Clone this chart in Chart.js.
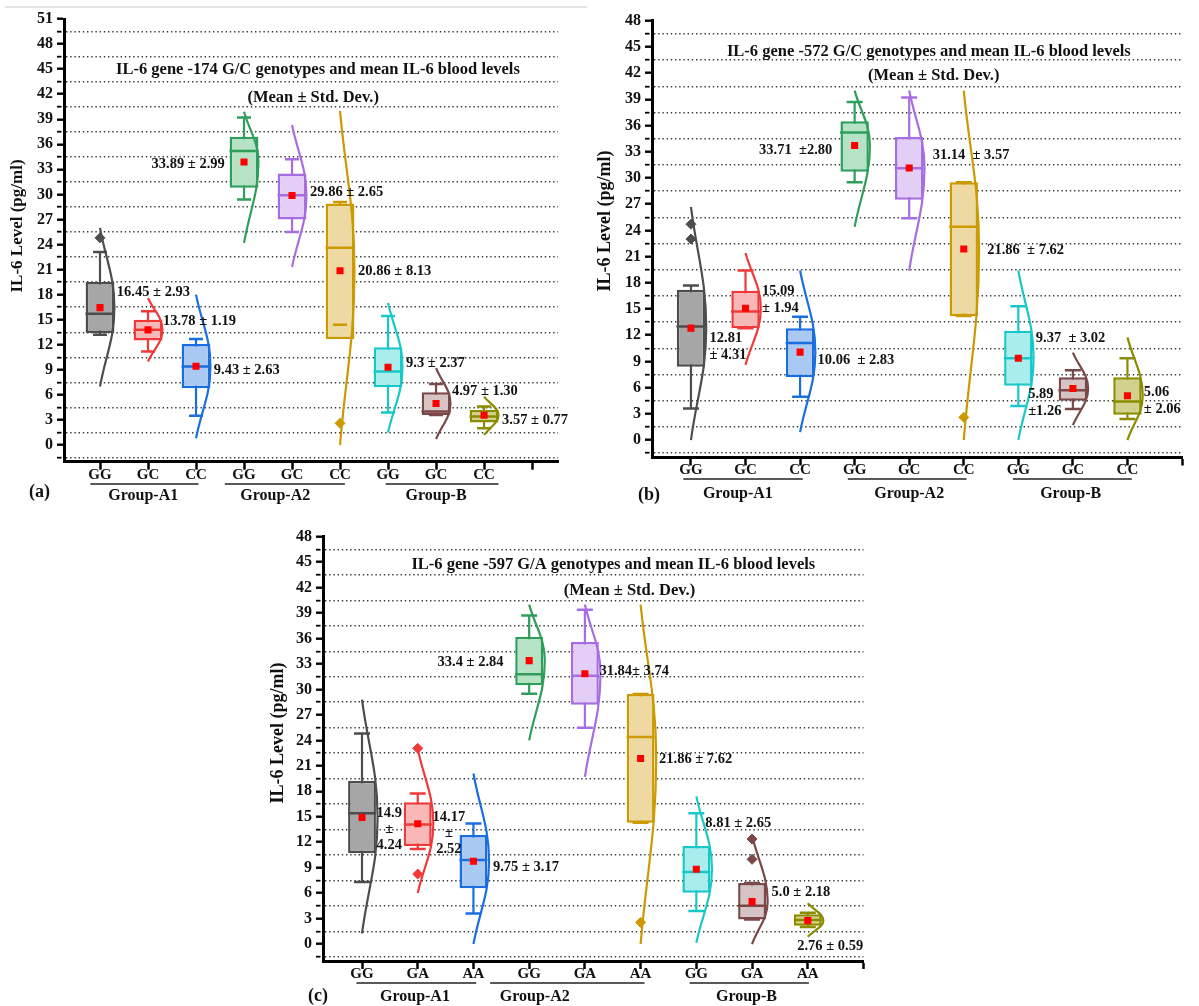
<!DOCTYPE html>
<html><head><meta charset="utf-8">
<script src="https://cdn.jsdelivr.net/npm/chart.js"></script>
<style>
html,body{margin:0;padding:0;background:#fff;width:1199px;height:1006px;overflow:hidden;position:relative}
.panel{position:absolute}
#topline{position:absolute;left:5px;top:6px;width:582px;height:2px;background:#e6e6e6}
</style></head><body>
<div id="topline"></div>
<div class="panel" style="left:0;top:0;width:590px;height:510px"><canvas id="ca"></canvas></div>
<div class="panel" style="left:590px;top:0;width:609px;height:510px"><canvas id="cb"></canvas></div>
<div class="panel" style="left:262px;top:515px;width:618px;height:491px"><canvas id="cc"></canvas></div>
<script>
// ---------------- DATA ----------------
const groupNames = ['Group-A1', 'Group-A2', 'Group-B'];
const genotypesA = ['GG','GC','CC','GG','GC','CC','GG','GC','CC'];
const genotypesB = ['GG','GC','CC','GG','GC','CC','GG','GC','CC'];
const genotypesC = ['GG','GA','AA','GG','GA','AA','GG','GA','AA'];
const yAxisTitle = 'IL-6 Level (pg/ml)';

// Panel (a): -174 G/C
const titleA = ['IL-6 gene -174 G/C genotypes and mean IL-6 blood levels', '(Mean ± Std. Dev.)'];
const q1A     = [13.4, 12.5, 6.8, 30.8, 27.0, 12.7, 6.9, 3.6, 2.7];
const q3A     = [19.5, 15.0, 12.1, 36.9, 32.5, 28.9, 11.7, 6.3, 4.2];
const medianA = [15.7, 13.8, 9.4, 35.2, 29.9, 23.6, 8.8, 4.0, 3.4];
const meanA   = [16.45, 13.78, 9.43, 33.89, 29.86, 20.86, 9.3, 4.97, 3.57];
const sdA     = [2.93, 1.19, 2.63, 2.99, 2.65, 8.13, 2.37, 1.30, 0.77];
const loA     = [13.2, 11.2, 3.5, 29.4, 25.5, 14.4, 3.9, 3.6, 2.0];
const hiA     = [23.1, 16.0, 12.7, 39.2, 34.2, 29.1, 15.45, 7.3, 4.6];
const curveTopA = [26.0, 17.6, 18.0, 39.9, 38.3, 40.0, 17.0, 9.2, 5.8];
const curveBotA = [7.0, 10.0, 0.8, 24.2, 21.3, 0.0, 1.5, 0.7, 1.2];
const outliersA = [[0, 24.8], [5, 2.6]];
const statTextA = ['16.45 ± 2.93','13.78 ± 1.19','9.43 ± 2.63','33.89 ± 2.99','29.86 ± 2.65','20.86 ± 8.13','9.3 ± 2.37','4.97 ± 1.30','3.57 ± 0.77'];

// Panel (b): -572 G/C
const titleB = ['IL-6 gene -572 G/C genotypes and mean IL-6 blood levels', '(Mean ± Std. Dev.)'];
const q1B     = [8.4, 12.8, 7.2, 30.7, 27.5, 14.2, 6.2, 4.5, 2.9];
const q3B     = [17.2, 17.1, 12.8, 36.5, 34.7, 29.5, 12.5, 7.2, 7.2];
const medianB = [13.0, 14.7, 11.1, 35.2, 31.1, 24.4, 9.35, 5.7, 4.4];
const meanB   = [12.81, 15.09, 10.06, 33.71, 31.14, 21.86, 9.37, 5.89, 5.06];
const sdB     = [4.31, 1.94, 2.83, 2.80, 3.57, 7.62, 3.02, 1.26, 2.06];
const loB     = [3.6, 12.8, 4.96, 29.5, 25.4, 14.2, 3.9, 3.55, 2.4];
const hiB     = [17.7, 19.4, 14.1, 38.7, 39.2, 29.5, 15.3, 8.0, 9.35];
const curveTopB = [26.7, 21.4, 19.4, 40.0, 40.0, 40.0, 19.4, 10.0, 11.75];
const curveBotB = [0.0, 8.6, 0.9, 24.4, 19.4, 0.0, 0.0, 1.7, 0.0];
const outliersB = [[0, 24.7], [0, 23.0], [5, 2.6]];
const statTextB = ['12.81\n± 4.31','15.09\n± 1.94','10.06  ± 2.83','33.71  ±2.80','31.14  ± 3.57','21.86  ± 7.62','9.37  ± 3.02','5.89\n±1.26','5.06\n± 2.06'];

// Panel (c): -597 G/A
const titleC = ['IL-6 gene -597 G/A genotypes and mean IL-6 blood levels', '(Mean ± Std. Dev.)'];
const q1C     = [10.7, 11.55, 6.56, 30.5, 28.2, 14.3, 6.05, 2.9, 2.16];
const q3C     = [19.25, 16.7, 12.85, 36.2, 35.6, 29.46, 11.55, 7.2, 3.5];
const medianC = [15.4, 14.1, 9.9, 31.8, 31.6, 24.4, 8.5, 4.5, 2.83];
const meanC   = [14.9, 14.17, 9.75, 33.4, 31.84, 21.86, 8.81, 5.0, 2.76];
const sdC     = [4.24, 2.52, 3.17, 2.84, 3.74, 7.62, 2.65, 2.18, 0.59];
const loC     = [7.3, 11.2, 3.6, 29.5, 25.5, 14.3, 3.9, 2.9, 2.0];
const hiC     = [24.8, 17.75, 14.2, 38.7, 39.4, 29.46, 15.4, 7.2, 3.7];
const curveTopC = [28.8, 23.0, 20.1, 40.0, 40.0, 40.0, 17.4, 12.8, 4.8];
const curveBotC = [1.25, 6.0, 0.0, 24.0, 19.7, 0.0, 0.15, 0.0, 0.86];
const outliersC = [[1, 23.06], [1, 8.25], [5, 2.55], [7, 12.37], [7, 9.98]];
const statTextC = ['14.9\n±\n4.24','14.17\n±\n2.52','9.75 ± 3.17','33.4 ± 2.84','31.84± 3.74','21.86 ± 7.62','8.81 ± 2.65','5.0 ± 2.18','2.76 ± 0.59'];

// ---------------- STYLE / LAYOUT ----------------
const BORDER = ['#4d4d4d','#f03a3a','#1a6ee0','#2e9e5a','#a66ee0','#cc9900','#18c8c8','#7a4848','#8c8c00'];
const FILL   = ['#a6a6a6','#f8b8b8','#a9c8f2','#b6e2c6','#e3cff6','#efd9a3','#a9eded','#d6c3c3','#d2d28e'];
const FONT = '"Liberation Serif", "Times New Roman", serif';

const layoutA = {
  xmin: 0.25, xmax: 10.54, ymin: -2, ymax: 51, yw: 64, xh: 48.3, pad: {top: 19, right: 32, left: 0, bottom: 0},
  bp: 0.6, half: 14.5, cap: 7, bulge: 0.3,
  yTitle: [18, 226, 17],
  titlePos: [[5.54, 44.9], [5.44, 41.6]],
  statPos: [[1.35,18.3,'left'],[2.31,14.77,'left'],[3.37,8.98,'left'],[3.6,33.65,'right'],[5.375,30.3,'left'],[6.375,20.75,'left'],[7.375,9.8,'left'],[8.33,6.47,'left'],[9.375,3.0,'left']],
  lh: 16,
  groups: [[1.9, 0.8, 3.05], [4.65, 3.6, 6.1], [8.0, 6.95, 9.3]],
  lineOff: 22.3, labelOff: 34.5, letter: '(a)', letterX: 29, letterY: 492
};
const layoutB = {
  xmin: 0.286, xmax: 10, ymin: -2, ymax: 48, yw: 62, xh: 52.5, pad: {top: 20.7, right: 2, left: 0, bottom: 0},
  bp: 0.52, half: 14.5, cap: 8, bulge: 0.28,
  yTitle: [15, 221, 18],
  titlePos: [[5.36, 44.45], [5.45, 41.67]],
  statPos: [[1.34,11.68,'left'],[2.30,16.98,'left'],[3.32,9.16,'left'],[3.59,33.12,'right'],[5.43,32.6,'left'],[6.43,21.75,'left'],[7.32,11.64,'left'],[7.18,5.27,'left'],[9.3,5.5,'left']],
  lh: 17,
  groups: [[1.86, 0.86, 3.05], [5.0, 3.875, 6.05], [7.96, 6.9, 9.08]],
  lineOff: 21.5, labelOff: 36.5, letter: '(b)', letterX: 48, letterY: 495
};
const layoutC = {
  xmin: 0.3, xmax: 10, ymin: -2, ymax: 48, yw: 61, xh: 45, pad: {top: 21.7, right: 5, left: 0, bottom: 0},
  bp: 0.5, half: 14, cap: 8, bulge: 0.28,
  yTitle: [16, 218, 18],
  titlePos: [[5.51, 44.66], [5.8, 41.63]],
  statPos: [[1.49,15.44,'center'],[2.56,14.97,'center'],[3.35,9.1,'left'],[3.54,33.15,'right'],[5.26,32.09,'left'],[6.33,21.77,'left'],[7.16,14.22,'left'],[8.35,6.05,'left'],[8.81,-0.32,'left']],
  lh: 16,
  groups: [[1.95, 0.9, 3.05], [4.1, 3.3, 6.07], [7.9, 6.88, 9.02]],
  lineOff: 22, labelOff: 35.7, letter: '(c)', letterX: 46, letterY: 481.7
};

const isHalf = v => Math.abs(Math.round(v / 3) * 3 - v) > 0.01;

const textPlugin = {
  id: 'panelText',
  afterDraw(chart, args, o) {
    const ctx = chart.ctx, xs = chart.scales.x, ys = chart.scales.y, ca = chart.chartArea;
    ctx.save();
    ctx.fillStyle = '#111';
    ctx.textBaseline = 'middle';
    // title
    ctx.font = 'bold 16.5px ' + FONT;
    ctx.textAlign = 'center';
    o.title.forEach((t, k) => ctx.fillText(t, xs.getPixelForValue(o.L.titlePos[k][0]), ys.getPixelForValue(o.L.titlePos[k][1])));
    // mean ± sd labels
    ctx.font = 'bold 14.5px ' + FONT;
    o.stats.forEach((s, k) => {
      const p = o.L.statPos[k];
      ctx.textAlign = p[2];
      s.split('\n').forEach((line, j) => ctx.fillText(line, xs.getPixelForValue(p[0]), ys.getPixelForValue(p[1]) + j * o.L.lh));
    });
    // group labels with underline
    ctx.font = 'bold 16px ' + FONT;
    ctx.textAlign = 'center';
    ctx.strokeStyle = '#222';
    ctx.lineWidth = 1.5;
    o.groups.forEach((g, k) => {
      const G = o.L.groups[k];
      ctx.beginPath();
      ctx.moveTo(xs.getPixelForValue(G[1]), ca.bottom + o.L.lineOff);
      ctx.lineTo(xs.getPixelForValue(G[2]), ca.bottom + o.L.lineOff);
      ctx.stroke();
      ctx.fillText(g, xs.getPixelForValue(G[0]), ca.bottom + o.L.labelOff);
    });
    // y axis title
    ctx.save();
    ctx.font = 'bold ' + o.L.yTitle[2] + 'px ' + FONT;
    ctx.translate(o.L.yTitle[0], o.L.yTitle[1]);
    ctx.rotate(-Math.PI / 2);
    ctx.textAlign = 'center';
    ctx.fillText(o.yTitle, 0, 0);
    ctx.restore();
    // panel letter
    ctx.font = 'bold 18px ' + FONT;
    ctx.textAlign = 'left';
    ctx.fillText(o.L.letter, o.L.letterX, o.L.letterY);
    ctx.restore();
  }
};

function buildChart(id, d, L) {
  const n = d.q1.length;
  const pts = arr => arr.map((v, i) => ({x: i + 1, y: v}));
  const ds = [];
  for (let i = 0; i < n; i++) {
    ds.push({type: 'line', data: [{x: i + 1, y: d.lo[i]}, {x: i + 1, y: d.hi[i]}],
      borderColor: BORDER[i], borderWidth: 2.2, pointRadius: 0, order: 20 + i});
  }
  ds.push({type: 'bar', data: d.q1.map((v, i) => ({x: i + 1, y: [v, d.q3[i]]})),
    backgroundColor: FILL, borderColor: BORDER, borderWidth: 2.5, borderSkipped: false,
    barPercentage: L.bp, categoryPercentage: 1, order: 15});
  for (let i = 0; i < n; i++) {
    ds.push({type: 'line', data: [{x: i + 1, y: d.cTop[i]}, {x: i + 1 + L.bulge, y: d.mean[i]}, {x: i + 1, y: d.cBot[i]}],
      borderColor: BORDER[i], borderWidth: 2.2, pointRadius: 0, tension: 0.4, order: 10});
  }
  const pointDs = (data, style, r, colors, order, extra) => Object.assign({type: 'line', showLine: false, data,
    pointStyle: style, pointRadius: r, pointHoverRadius: r, pointBorderColor: colors, pointBackgroundColor: colors,
    pointBorderWidth: 2.5, order}, extra || {});
  ds.push(pointDs(pts(d.lo), 'line', L.cap, BORDER, 6));
  ds.push(pointDs(pts(d.hi), 'line', L.cap, BORDER, 5));
  ds.push(pointDs(pts(d.median), 'line', L.half, BORDER, 4));
  ds.push(pointDs(d.out.map(o => ({x: o[0] + 1, y: o[1]})), 'rectRot', 5, d.out.map(o => BORDER[o[0]]), 3, {pointBorderWidth: 1}));
  ds.push(pointDs(pts(d.mean), 'rect', 5, '#ff0000', 1, {pointBorderWidth: 0}));

  const tickFont = {family: FONT, weight: 'bold', size: 16};
  new Chart(document.getElementById(id), {
    type: 'bar',
    data: {datasets: ds},
    plugins: [textPlugin],
    options: {
      responsive: true, maintainAspectRatio: false, animation: false,
      layout: {padding: L.pad},
      plugins: {legend: {display: false}, tooltip: {enabled: false},
        panelText: {title: d.title, stats: d.stats, groups: groupNames, yTitle: yAxisTitle, L}},
      scales: {
        x: {type: 'linear', min: L.xmin, max: L.xmax, offset: false,
          afterFit: s => { s.height = L.xh; },
          grid: {offset: false, drawOnChartArea: false, drawTicks: true, tickLength: 8, tickColor: '#000', tickWidth: 2.5},
          border: {display: true, color: '#000', width: 3},
          ticks: {stepSize: 1, autoSkip: false, includeBounds: false, maxRotation: 0, padding: -4, color: '#111',
            font: {family: FONT, weight: 'bold', size: 15},
            callback: v => d.labels[v - 1] || ''}},
        y: {type: 'linear', min: L.ymin, max: L.ymax,
          afterFit: s => { s.width = L.yw; },
          grid: {drawOnChartArea: true, drawTicks: true, tickLength: 7,
            color: c => isHalf(c.tick.value) ? '#3a3a3a' : 'rgba(0,0,0,0)', lineWidth: 1.4,
            tickColor: '#000', tickWidth: c => isHalf(c.tick.value) ? 1.8 : 2.4,
            tickBorderDash: c => isHalf(c.tick.value) ? [4.5, 30] : []},
          border: {display: true, color: '#000', width: 3, dash: [1.4, 2.8]},
          ticks: {stepSize: 1.5, autoSkip: false, includeBounds: false, padding: 4, color: '#111', font: tickFont,
            callback: v => isHalf(v) ? '' : String(Math.round(v))}}
      }
    }
  });
}

buildChart('ca', {q1: q1A, q3: q3A, median: medianA, mean: meanA, lo: loA, hi: hiA, cTop: curveTopA, cBot: curveBotA,
  out: outliersA, stats: statTextA, title: titleA, labels: genotypesA}, layoutA);
buildChart('cb', {q1: q1B, q3: q3B, median: medianB, mean: meanB, lo: loB, hi: hiB, cTop: curveTopB, cBot: curveBotB,
  out: outliersB, stats: statTextB, title: titleB, labels: genotypesB}, layoutB);
buildChart('cc', {q1: q1C, q3: q3C, median: medianC, mean: meanC, lo: loC, hi: hiC, cTop: curveTopC, cBot: curveBotC,
  out: outliersC, stats: statTextC, title: titleC, labels: genotypesC}, layoutC);
</script>
</body></html>
